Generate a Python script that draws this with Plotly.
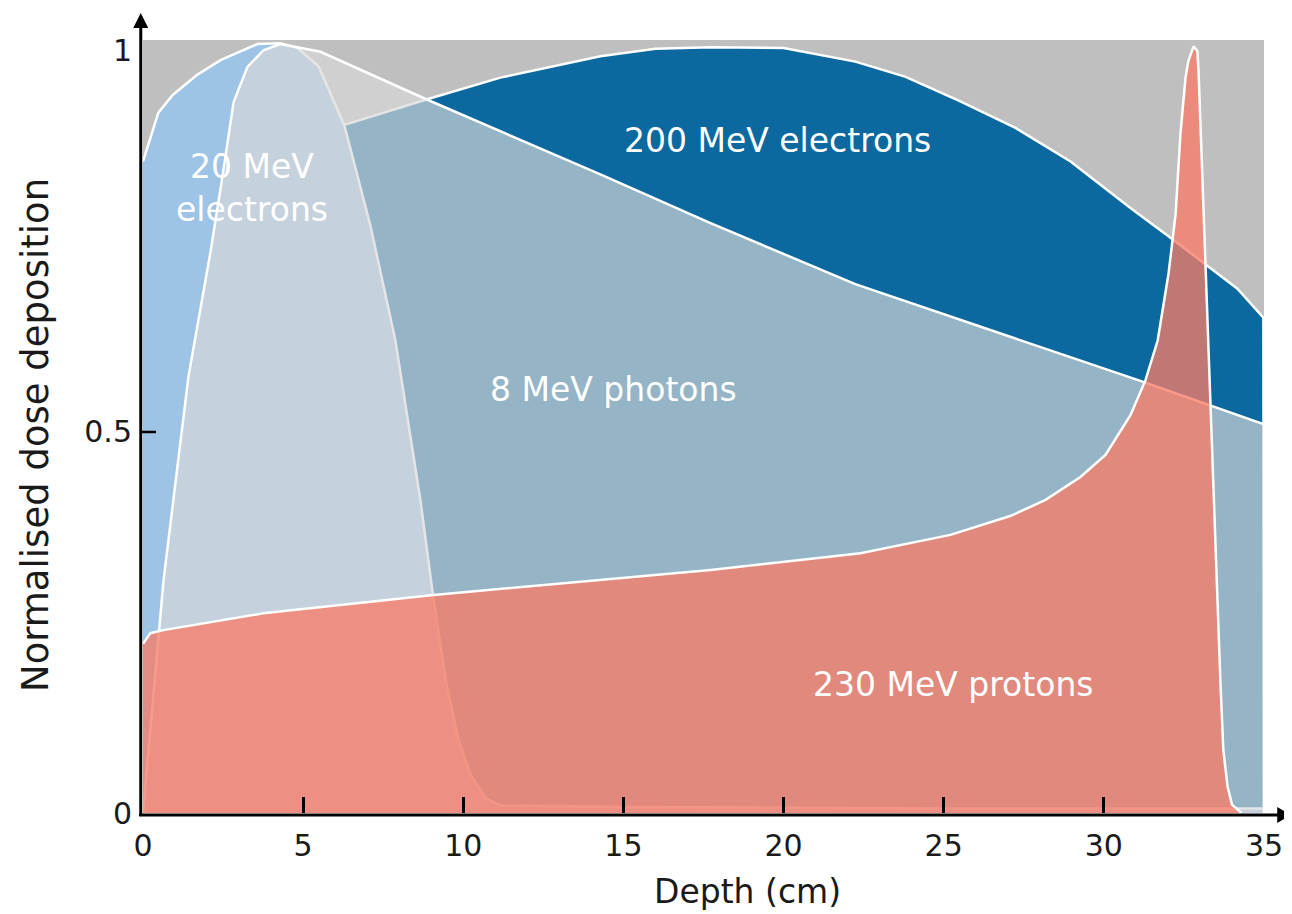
import plotly.graph_objects as go

# ---- data ----
depth_e200 = [0, 3.0, 6.29, 8.9, 11.16, 14.28, 16.0, 17.72, 20.0, 22.24, 23.81, 25.52, 27.24, 28.96, 30.83, 32.08, 34.17, 34.98, 35.0]
dose_e200 = [0.80, 0.86, 0.903, 0.937, 0.965, 0.993, 1.003, 1.005, 1.004, 0.986, 0.966, 0.934, 0.899, 0.855, 0.794, 0.755, 0.688, 0.650, 0.0]

depth_e20 = [0, 0.48, 0.92, 1.70, 2.42, 3.57, 4.29, 4.82, 5.48, 6.29, 7.10, 7.88, 8.66, 9.04, 9.45, 9.85, 10.23, 10.69, 11.16, 15.0, 20.0, 25.0, 30.0, 35.0, 35.0]
dose_e20 = [0.855, 0.919, 0.942, 0.969, 0.988, 1.009, 1.010, 1.004, 0.980, 0.902, 0.771, 0.620, 0.411, 0.290, 0.175, 0.096, 0.050, 0.020, 0.010, 0.008, 0.007, 0.006, 0.006, 0.006, 0.0]

depth_ph = [0, 0.64, 1.42, 2.11, 2.42, 2.83, 3.26, 3.76, 4.29, 5.54, 8.88, 14.28, 17.72, 22.24, 31.14, 35.0, 35.0]
dose_ph = [0.0, 0.305, 0.573, 0.737, 0.819, 0.933, 0.979, 1.001, 1.009, 0.999, 0.936, 0.838, 0.774, 0.694, 0.567, 0.510, 0.0]

depth_p = [0, 0.23, 0.64, 3.76, 9.07, 14.28, 17.72, 22.4, 25.21, 27.1, 28.18, 29.27, 30.05, 30.83, 31.3, 31.68, 32.02, 32.24, 32.39, 32.55, 32.64, 32.80, 32.92, 32.96, 33.08, 33.17, 33.30, 33.48, 33.55, 33.64, 33.73, 33.86, 34.0, 34.3]
dose_p = [0.222, 0.236, 0.240, 0.262, 0.286, 0.306, 0.319, 0.341, 0.365, 0.390, 0.411, 0.441, 0.470, 0.522, 0.568, 0.620, 0.708, 0.786, 0.891, 0.965, 0.987, 1.006, 1.000, 0.970, 0.826, 0.716, 0.564, 0.345, 0.280, 0.171, 0.083, 0.035, 0.011, 0.0]

x_ticks = [0, 5, 10, 15, 20, 25, 30, 35]
y_ticks = [0, 0.5, 1]
y_tick_text = ["0", "0.5", "1"]

labels = ["200 MeV electrons", "20 MeV<br>electrons", "8 MeV photons", "230 MeV protons"]
label_x = [19.8, 3.4, 14.7, 25.3]
label_y = [0.882, 0.82, 0.556, 0.168]

FONT = "DejaVu Sans"
TXT = "#1a1a1a"

fig = go.Figure()

def area(x, y, fill, name):
    fig.add_trace(go.Scatter(
        x=x, y=y, mode="lines", name=name, fill="tozeroy",
        fillcolor=fill, line=dict(color="white", width=2.5),
        hoverinfo="skip", showlegend=False))

area(depth_e200, dose_e200, "#0b69a0", "200 MeV electrons")
area(depth_e20, dose_e20, "#9dc3e6", "20 MeV electrons")
area(depth_ph, dose_ph, "rgba(216,216,216,0.675)", "8 MeV photons")
area(depth_p, dose_p, "rgba(249,124,103,0.77)", "230 MeV protons")

for t, xx, yy in zip(labels, label_x, label_y):
    fig.add_annotation(x=xx, y=yy, text=t, showarrow=False,
                       font=dict(family=FONT, size=33, color="white"),
                       xanchor="center", yanchor="middle")

# axis titles
fig.add_annotation(x=-0.0963, y=0.489, xref="paper", yref="paper", text="Normalised dose deposition",
                   textangle=-90, showarrow=False, font=dict(family=FONT, size=37, color=TXT),
                   xanchor="center", yanchor="middle")
fig.add_annotation(x=0.539, y=-0.102, xref="paper", yref="paper", text="Depth (cm)",
                   showarrow=False, font=dict(family=FONT, size=33, color=TXT),
                   xanchor="center", yanchor="middle")

# axis lines with arrows
ax_col = "#000"
fig.add_shape(type="line", xref="paper", yref="paper", x0=-0.002, x1=-0.002, y0=-0.0026, y1=1.016,
              line=dict(color=ax_col, width=3))
fig.add_shape(type="line", xref="paper", yref="paper", x0=-0.0036, x1=1.0125, y0=-0.0026, y1=-0.0026,
              line=dict(color=ax_col, width=3))
fig.add_shape(type="path", xref="paper", yref="paper",
              path="M -0.0087,1.0155 L 0.0047,1.0155 L -0.002,1.035 Z",
              fillcolor=ax_col, line=dict(width=0))
fig.add_shape(type="path", xref="paper", yref="paper",
              path="M 1.0118,0.0077 L 1.0118,-0.0129 L 1.0241,-0.0026 Z",
              fillcolor=ax_col, line=dict(width=0))
fig.add_shape(type="line", xref="paper", yref="y", x0=-0.002, x1=0.0116, y0=0.5, y1=0.5,
              line=dict(color=ax_col, width=2.5))

# the page body has an 8px margin: the figure is sized and offset to compensate
fig.update_layout(
    width=1284, height=906,
    margin=dict(l=135, r=28, t=32, b=101, autoexpand=False),
    paper_bgcolor="white", plot_bgcolor="#bfbfbf",
    font=dict(family=FONT, size=30, color=TXT),
)
fig.update_xaxes(range=[0, 35], tickvals=x_ticks, ticks="inside", ticklen=16, tickwidth=2.5,
                 tickcolor=ax_col, showgrid=False, zeroline=False, showline=False,
                 ticklabelstandoff=12, automargin=False,
                 tickfont=dict(family=FONT, size=30, color=TXT))
fig.update_yaxes(range=[0, 1.0144], tickvals=y_ticks, ticktext=y_tick_text, ticks="",
                 showgrid=False, zeroline=False, showline=False,
                 ticklabelstandoff=10, automargin=False,
                 tickfont=dict(family=FONT, size=30, color=TXT))

fig.write_html("out.html")
